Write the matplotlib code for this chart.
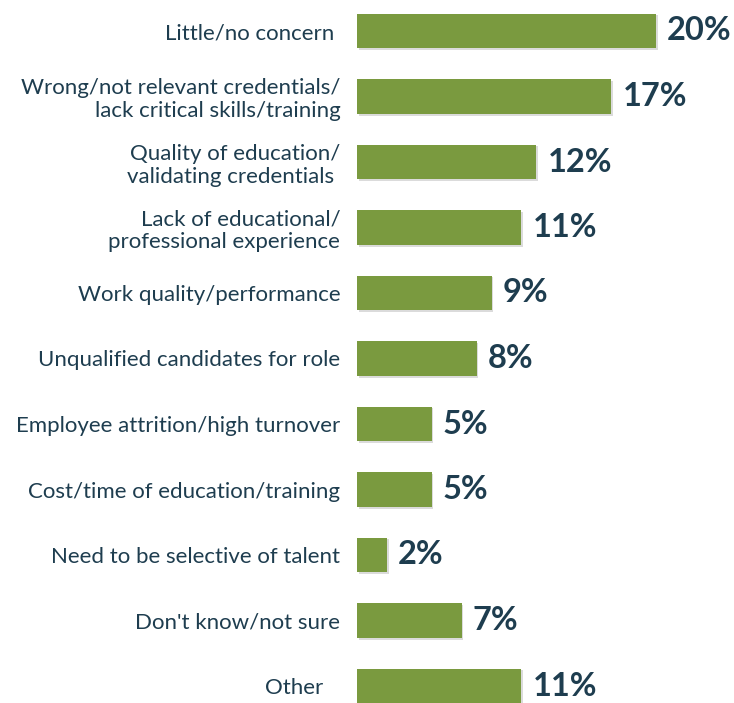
import matplotlib
matplotlib.use('Agg')
import matplotlib.pyplot as plt
import matplotlib.patheffects as pe
import numpy as np

# donnees
categories = ['Little/no concern ',
              'Wrong/not relevant credentials/\nlack critical skills/training',
              'Quality of education/\nvalidating credentials ',
              'Lack of educational/\nprofessional experience',
              'Work quality/performance',
              'Unqualified candidates for role',
              'Employee attrition/high turnover',
              'Cost/time of education/training',
              'Need to be selective of talent',
              "Don't know/not sure",
              'Other   ']
values = [20, 17, 12, 11, 9, 8, 5, 5, 2, 7, 11]

green = '#7a9a3f'
txt = '#1e3d4f'

plt.rcParams['font.family'] = ['Lato', 'DejaVu Sans']

fig = plt.figure(figsize=(7.34, 7.03), dpi=100)
ax = fig.add_axes([357/734, 0, 377/734, 1])

pos = np.arange(len(values))
bars = ax.barh(pos, values, height=0.53, color=green, zorder=2)
for b in bars:
    b.set_path_effects([pe.SimplePatchShadow(offset=(1.2, -1.2), shadow_rgbFace='#999999', alpha=0.35),
                        pe.Normal()])

ax.set_xlim(0, 377/14.95)
ax.set_ylim(10 + 17/65.5, -31/65.5)

for p, v in zip(pos, values):
    ax.text(v + 0.75, p, '%d%%' % v, va='center', ha='left',
            fontsize=23.5, fontweight='bold', color=txt)

ax.set_yticks(pos)
ax.set_yticklabels(categories, fontsize=16, color=txt, linespacing=1.17)
ax.tick_params(axis='y', length=0, pad=12)
ax.set_xticks([])
for s in ax.spines.values():
    s.set_visible(False)

plt.savefig('out.png', dpi=100)
